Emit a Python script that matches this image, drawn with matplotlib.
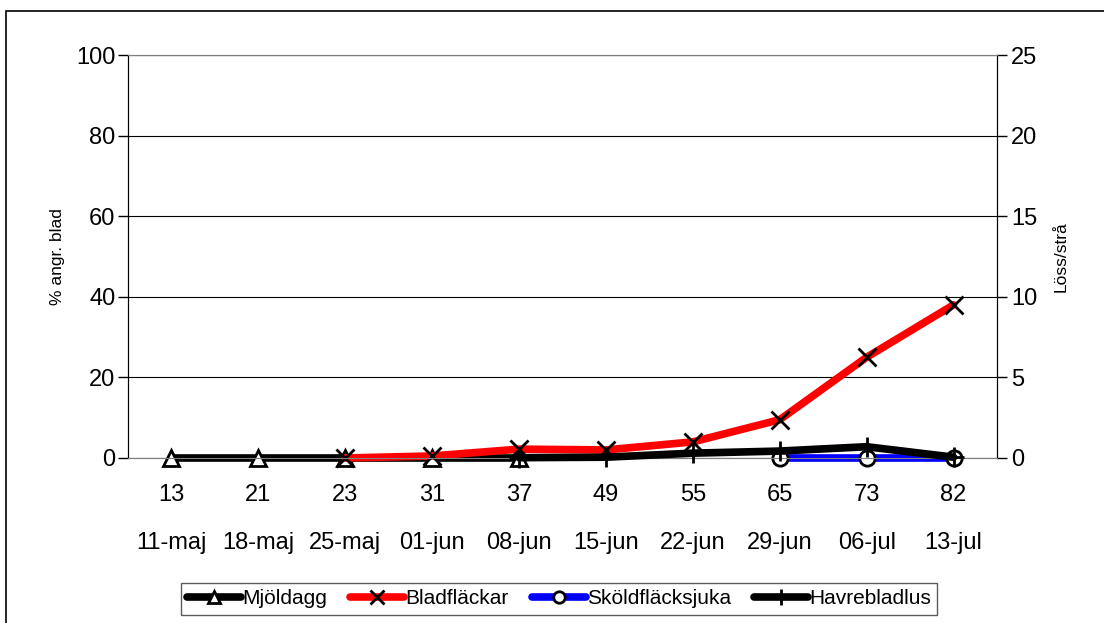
import numpy as np
import matplotlib.pyplot as plt
from matplotlib.patches import Rectangle

plt.rcParams['font.family'] = ['Liberation Sans', 'DejaVu Sans']

dc = ['13', '21', '23', '31', '37', '49', '55', '65', '73', '82']
datum = ['11-maj', '18-maj', '25-maj', '01-jun', '08-jun', '15-jun',
         '22-jun', '29-jun', '06-jul', '13-jul']

nan = np.nan
mjoldagg = [0, 0, 0, 0, 0, nan, nan, nan, nan, nan]
bladflackar = [nan, nan, 0, 0.5, 2.2, 2.0, 4.0, 9.5, 25, 38]
skoldflacksjuka = [nan, nan, nan, nan, nan, nan, nan, 0, 0, 0]
havrebladlus = [nan, nan, nan, nan, 0.02, 0.05, 0.3, 0.43, 0.7, 0.05]  # löss/strå

x = np.arange(len(dc))

fig = plt.figure(figsize=(11.04, 6.23), dpi=100)
ax = fig.add_axes([128/1104, 1 - 458/623, 869/1104, 403/623])
ax2 = ax.twinx()

lw = 5.5
ax.plot(x, mjoldagg, color='black', lw=lw, marker='^', ms=11, mfc='white',
        mec='black', mew=2, label='Mjöldagg', zorder=3, clip_on=False,
        solid_capstyle='round')
ax.plot(x, skoldflacksjuka, color='#0000ff', lw=lw, marker='o', ms=11, mfc='white',
        mec='black', mew=2, label='Sköldfläcksjuka', zorder=3, clip_on=False,
        solid_capstyle='round')
ax.plot(x, bladflackar, color='#ff0000', lw=lw, marker='x', ms=13,
        mec='black', mew=2, label='Bladfläckar', zorder=4, clip_on=False,
        solid_capstyle='round')
ax2.plot(x, havrebladlus, color='black', lw=lw, marker='+', ms=15,
         mec='black', mew=2, label='Havrebladlus', zorder=3, clip_on=False,
         solid_capstyle='round')

ax.set_xlim(-0.5, len(dc) - 0.5)
ax.set_ylim(0, 100)
ax2.set_ylim(0, 25)
ax.set_yticks(np.arange(0, 101, 20))
ax2.set_yticks(np.arange(0, 26, 5))
ax.set_xticks(x)
ax.set_xticklabels(dc, fontsize=17)
ax.tick_params(axis='x', length=0, pad=18.5)

# andra raden: datum
sec = ax.secondary_xaxis('bottom')
sec.set_xticks(x)
sec.set_xticklabels(datum, fontsize=17)
sec.tick_params(axis='x', length=0, pad=53.5)
sec.spines['bottom'].set_visible(False)

ax.tick_params(axis='y', labelsize=17, length=7, width=1, direction='out', pad=2)
ax2.tick_params(axis='y', labelsize=17, length=7, width=1, direction='out', pad=3)

ax.grid(axis='y', color='black', lw=0.8)
ax.set_axisbelow(True)
for a in (ax, ax2):
    a.spines['top'].set_color('#808080')
    a.spines['bottom'].set_color('#808080')
    a.spines['left'].set_color('black')
    a.spines['right'].set_color('black')

ax.set_ylabel('% angr. blad', fontsize=12.5, labelpad=8)
ax2.set_ylabel('Löss/strå', fontsize=12.5, labelpad=12)

# legend i fast ordning
h1, l1 = ax.get_legend_handles_labels()
h2, l2 = ax2.get_legend_handles_labels()
handles = dict(zip(l1 + l2, h1 + h2))
order = ['Mjöldagg', 'Bladfläckar', 'Sköldfläcksjuka', 'Havrebladlus']
leg = fig.legend([handles[k] for k in order], order, loc='center',
                 bbox_to_anchor=(559/1104, 1 - 599/623), ncol=4, fontsize=15,
                 frameon=True, fancybox=False, edgecolor='#333333',
                 handlelength=2.6, handletextpad=0.05, columnspacing=1.1,
                 borderpad=0.3, markerscale=0.75)
leg.get_frame().set_linewidth(1)

fig.patches.append(Rectangle((6/1104, -0.05), 1.2, 1 - 11/623 + 0.05,
                             transform=fig.transFigure, fill=False,
                             edgecolor='black', lw=1.2))

fig.savefig('out.png', dpi=100)
